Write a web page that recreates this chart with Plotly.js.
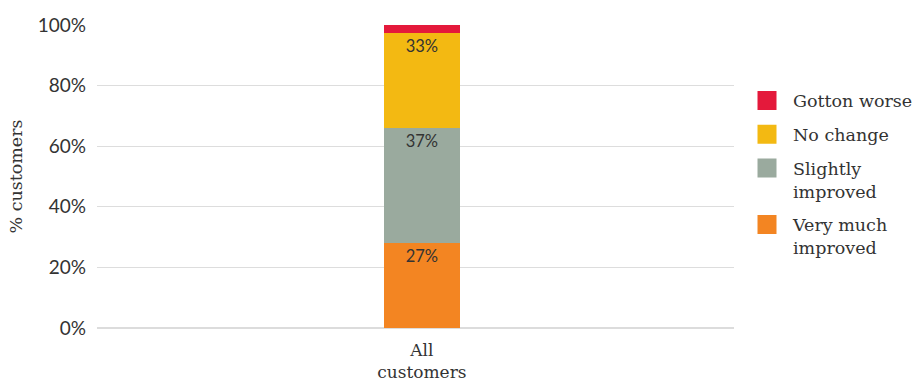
<!DOCTYPE html>
<html><head><meta charset="utf-8">
<script src="https://cdn.plot.ly/plotly-3.0.1.min.js"></script>
<style>html,body{margin:0;padding:0;background:#fff}</style>
</head><body>
<div id="chart" style="width:918px;height:381px"></div>
<script>
const categories = ["All<br>customers"];
const seriesNames = ["Very much<br>improved", "Slightly<br>improved", "No change", "Gotton worse"];
const seriesValues = [[28], [38], [31.5], [2.5]];
const seriesLabels = [["27%"], ["37%"], ["33%"], [""]];
const seriesColors = ["#f38522", "#9aaa9e", "#f3b912", "#e4193b"];
const yTickVals = [0, 20, 40, 60, 80, 100];
const yTickText = ["0%", "20%", "40%", "60%", "80%", "100%"];

const traces = seriesNames.map((n, i) => ({
  type: "bar", name: n, x: categories, y: seriesValues[i], legendgroup: "g" + i,
  legendrank: 1000 - i,
  text: seriesLabels[i], textposition: "inside", insidetextanchor: "end",
  textfont: {family: "Lato, 'Open Sans', sans-serif", size: 16.5, color: "#333"},
  marker: {color: seriesColors[i], line: {width: 0}},
  width: 0.119, hoverinfo: "none"
}));

const layout = {
  barmode: "stack",
  width: 918, height: 381,
  margin: {l: 97, r: 184, t: 25, b: 53, autoexpand: false},
  paper_bgcolor: "#fff", plot_bgcolor: "#fff",
  showlegend: true,
  legend: {x: 1.011, y: 0.81, xanchor: "left", yanchor: "top", traceorder: "grouped",
    tracegroupgap: 8, valign: "top",
    font: {family: "'DejaVu Serif', serif", size: 17.5, color: "#333"}, itemwidth: 42},
  xaxis: {type: "category", range: [-0.51, 0.49], showgrid: false, zeroline: false, showline: false,
    ticks: "", ticklabelstandoff: 10, automargin: false,
    tickfont: {family: "'DejaVu Serif', serif", size: 17, color: "#333"}},
  yaxis: {range: [0, 100], tickvals: yTickVals, ticktext: yTickText, showgrid: true, automargin: false,
    gridcolor: "#dddddd", gridwidth: 1, zeroline: true, zerolinecolor: "#dcdcdc", zerolinewidth: 2,
    showline: false, ticks: "", ticklabelstandoff: 10,
    tickfont: {family: "Lato, 'Open Sans', sans-serif", size: 19, color: "#333"},
    title: {text: "% customers", standoff: 10, font: {family: "'DejaVu Serif', serif", size: 17.5, color: "#333"}}}
};

Plotly.newPlot("chart", traces, layout, {displayModeBar: false, staticPlot: true}).then(() => {
  document.querySelectorAll("#chart .legendpoints path").forEach(p => {
    p.setAttribute("d", "M9.5,9.5H-9.5V-9.5H9.5Z");
  });
});
</script>
</body></html>
